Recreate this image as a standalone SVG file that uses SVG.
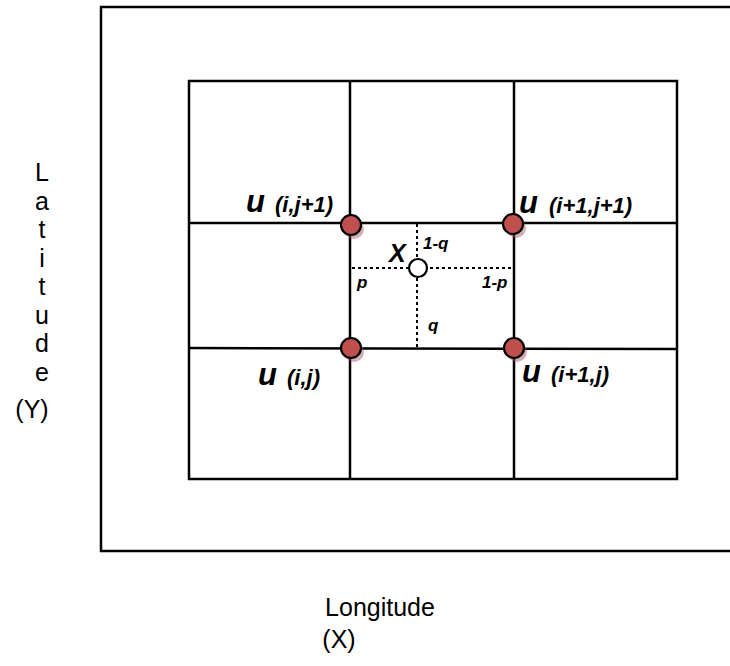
<svg xmlns="http://www.w3.org/2000/svg" width="730" height="666" viewBox="0 0 730 666">
<defs>
<style>
.ln{stroke:#000;stroke-width:2.5;fill:none}
.dot{stroke:#000;stroke-width:2;stroke-dasharray:3 3;fill:none}
.ax{font-family:"Liberation Sans",Arial,sans-serif;font-size:25px;fill:#000}
.u{font-family:"Liberation Sans",Arial,sans-serif;font-size:31px;font-weight:bold;font-style:italic;fill:#000}
.idx{font-family:"Liberation Sans",Arial,sans-serif;font-size:22px;font-weight:bold;font-style:italic;fill:#000}
.sm{font-family:"Liberation Sans",Arial,sans-serif;font-size:17px;font-weight:bold;font-style:italic;fill:#000}
.red{fill:#c0504d;stroke:#000;stroke-width:2.2}
.sh{fill:#a0505a;opacity:0.45}
</style>
</defs>
<g id="frame">
<polyline class="ln" points="730,7 101,7 101,551 730,551"/>
</g>
<g id="grid" class="ln">
<rect x="189" y="81" width="488" height="398"/>
<line x1="350" y1="81" x2="350" y2="479"/>
<line x1="514" y1="81" x2="514" y2="479"/>
<line x1="189" y1="223" x2="677" y2="223"/>
<line x1="189" y1="348" x2="677" y2="349"/>
</g>
<g id="connectors">
<line class="dot" x1="352" y1="268" x2="514" y2="268"/>
<line class="dot" x1="417" y1="224" x2="417" y2="348"/>
</g>
<g id="u_ij1">
<circle class="sh" cx="354" cy="229" r="10"/>
<circle class="red" cx="351" cy="225" r="10"/>
<text class="u" x="246" y="212">u</text>
<text class="idx" x="275" y="212">(i,j+1)</text>
</g>
<g id="u_i1j1">
<circle class="sh" cx="516" cy="228" r="10"/>
<circle class="red" cx="513" cy="224" r="10"/>
<text class="u" x="519" y="213">u</text>
<text class="idx" x="549" y="213">(i+1,j+1)</text>
</g>
<g id="u_ij">
<circle class="sh" cx="354" cy="352" r="10"/>
<circle class="red" cx="351" cy="348" r="10"/>
<text class="u" x="258" y="385">u</text>
<text class="idx" x="287" y="385">(i,j)</text>
</g>
<g id="u_i1j">
<circle class="sh" cx="517" cy="352" r="10"/>
<circle class="red" cx="514" cy="348" r="10"/>
<text class="u" x="522" y="382">u</text>
<text class="idx" x="551" y="382">(i+1,j)</text>
</g>
<g id="X">
<circle cx="418" cy="268" r="9" fill="#fff" stroke="#000" stroke-width="2.2"/>
<text class="u" x="389" y="262" style="font-size:25px">X</text>
<text class="sm" x="423" y="249">1-q</text>
<text class="sm" x="357" y="288">p</text>
<text class="sm" x="482" y="288">1-p</text>
<text class="sm" x="428" y="331">q</text>
</g>
<g id="labels" class="ax" text-anchor="middle">
<text x="42" y="181">L</text>
<text x="42" y="210">a</text>
<text x="42" y="238">t</text>
<text x="42" y="267">i</text>
<text x="42" y="295">t</text>
<text x="42" y="324">u</text>
<text x="42" y="352">d</text>
<text x="42" y="381">e</text>
<text x="32" y="418">(Y)</text>
<text x="380" y="616">Longitude</text>
<text x="339" y="648">(X)</text>
</g>
</svg>
